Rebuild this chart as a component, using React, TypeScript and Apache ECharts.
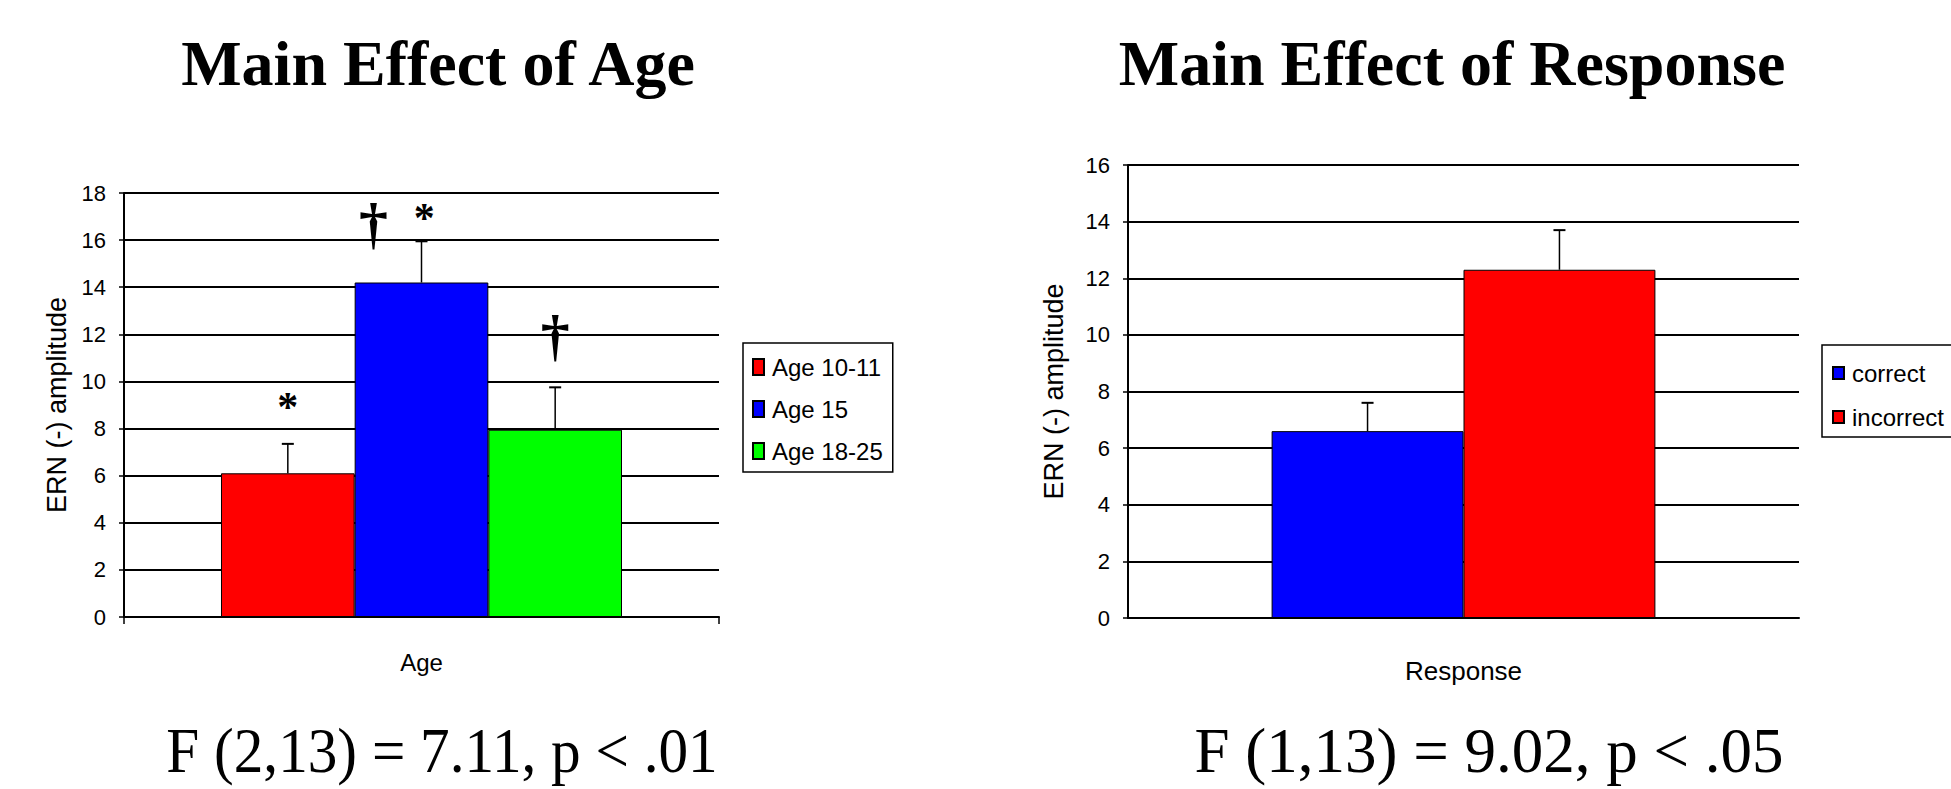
import React, { useEffect, useRef } from "react";
import * as echarts from "echarts";

// ---- Left chart: Main Effect of Age ----
const ageCategories = ["Age"];
const ageGroups = ["Age 10-11", "Age 15", "Age 18-25"];
const ageMeans = [6.1, 14.2, 7.95];
const ageUpper = [7.35, 15.95, 9.75];
const ageColors = ["#ff0000", "#0000ff", "#00ff00"];
const ageMax = 18;
const ageMarks = ["*", "\u2020", "*", "\u2020"];
const ageMarkBar = [0, 1, 1, 2];
const ageMarkShift = [0, -0.36, 0.02, 0];
const ageMarkValue = [8.9, 16.7, 16.95, 11.95];

// ---- Right chart: Main Effect of Response ----
const respCategories = ["Response"];
const respGroups = ["correct", "incorrect"];
const respMeans = [6.6, 12.3];
const respUpper = [7.6, 13.7];
const respColors = ["#0000ff", "#ff0000"];
const respMax = 16;

const tickStep = 2;

const SANS = '"Liberation Sans", Arial, sans-serif';
const SERIF = '"Liberation Serif", "Times New Roman", serif';

const AGE_GAP = 0.326;
const RESP_GAP = 0.428;

function makeYAxis(gridIndex: number, max: number, name: string, nameGap: number) {
  return {
    type: "value",
    gridIndex,
    min: 0,
    max,
    interval: tickStep,
    name,
    nameLocation: "middle",
    nameGap,
    nameTextStyle: { fontFamily: SANS, fontSize: 27, color: "#000" },
    axisLine: { show: true, lineStyle: { color: "#000", width: 2 } },
    axisTick: { show: true, length: 5, lineStyle: { color: "#000", width: 1.5 } },
    axisLabel: { fontFamily: SANS, fontSize: 22, color: "#000", margin: 18 },
    splitLine: { show: true, lineStyle: { color: "#000", width: 2 } },
  };
}

function makeXAxis(gridIndex: number, data: string[], showTick: boolean, nameGap: number, nameSize: number) {
  return {
    type: "category",
    gridIndex,
    data,
    name: data[0],
    nameLocation: "middle",
    nameGap,
    nameTextStyle: { fontFamily: SANS, fontSize: nameSize, color: "#000" },
    axisLine: { show: true, lineStyle: { color: "#000", width: 2 } },
    axisTick: { show: showTick, length: 7, alignWithLabel: false, lineStyle: { color: "#000", width: 1.5 } },
    axisLabel: { show: false },
    splitLine: { show: false },
  };
}

function barSeries(names: string[], means: number[], colors: string[], axisIndex: number, gap: number) {
  return names.map((n, i) => ({
    type: "bar",
    name: n,
    xAxisIndex: axisIndex,
    yAxisIndex: axisIndex,
    data: [means[i]],
    barGap: "0%",
    barCategoryGap: `${gap * 100}%`,
    itemStyle: { color: colors[i], borderColor: "#000", borderWidth: 1 },
  }));
}

function errorSeries(means: number[], upper: number[], axisIndex: number, gap: number) {
  const n = means.length;
  return {
    type: "custom",
    xAxisIndex: axisIndex,
    yAxisIndex: axisIndex,
    silent: true,
    z: 5,
    encode: { x: 0, y: [1, 2] },
    data: means.map((m, i) => [0, m, upper[i]]),
    renderItem: (params: any, api: any) => {
      const i = params.dataIndex;
      const band = api.size([1, 0])[0];
      const barW = (band * (1 - gap)) / n;
      const base = api.coord([api.value(0), api.value(1)]);
      const top = api.coord([api.value(0), api.value(2)]);
      const x = base[0] + (i - (n - 1) / 2) * barW;
      return {
        type: "group",
        children: [
          { type: "line", shape: { x1: x, y1: base[1], x2: x, y2: top[1] }, style: { stroke: "#000", lineWidth: 1.5 } },
          { type: "line", shape: { x1: x - 6, y1: top[1], x2: x + 6, y2: top[1] }, style: { stroke: "#000", lineWidth: 2 } },
        ],
      };
    },
  };
}

function markSeries(axisIndex: number, n: number, gap: number) {
  return {
    type: "custom",
    xAxisIndex: axisIndex,
    yAxisIndex: axisIndex,
    silent: true,
    z: 6,
    encode: { x: 0, y: 1 },
    data: ageMarkValue.map((v) => [0, v]),
    renderItem: (params: any, api: any) => {
      const k = params.dataIndex;
      const band = api.size([1, 0])[0];
      const barW = (band * (1 - gap)) / n;
      const p = api.coord([api.value(0), api.value(1)]);
      const x = p[0] + (ageMarkBar[k] - (n - 1) / 2) * barW + ageMarkShift[k] * barW;
      const isDagger = ageMarks[k] === "\u2020";
      return {
        type: "text",
        x,
        y: p[1],
        style: {
          text: ageMarks[k],
          fontFamily: SERIF,
          fontWeight: "bold",
          fontSize: isDagger ? 58 : 42,
          fill: "#000",
          align: "center",
          verticalAlign: "middle",
        },
      };
    },
  };
}

function legend(data: string[], left: number, top: number, padding: number[], itemGap: number, itemHeight: number) {
  return {
    data,
    orient: "vertical",
    left,
    top,
    padding,
    itemGap,
    itemWidth: 11,
    itemHeight,
    icon: "rect",
    borderColor: "#000",
    borderWidth: 1.5,
    borderRadius: 0,
    backgroundColor: "#fff",
    textStyle: { fontFamily: SANS, fontSize: 24, color: "#000", padding: [0, 0, 0, 3] },
    selectedMode: false,
  };
}

export default function App() {
  const ref = useRef<HTMLDivElement>(null);
  useEffect(() => {
    if (!ref.current) return;
    const chart = echarts.init(ref.current, undefined, { renderer: "svg" });
    const option: any = {
      animation: false,
      backgroundColor: "#fff",
      grid: [
        { left: 124, top: 193, width: 595, height: 424 },
        { left: 1128, top: 165, width: 671, height: 453 },
      ],
      xAxis: [makeXAxis(0, ageCategories, true, 33, 24), makeXAxis(1, respCategories, false, 40, 26)],
      yAxis: [makeYAxis(0, ageMax, "ERN (-) amplitude", 54), makeYAxis(1, respMax, "ERN (-) amplitude", 61)],
      legend: [
        legend(ageGroups, 743, 343, [12, 10, 9, 9], 18, 16),
        legend(respGroups, 1822, 345, [16, 40, 8, 10], 20, 12),
      ],
      series: [
        ...barSeries(ageGroups, ageMeans, ageColors, 0, AGE_GAP),
        errorSeries(ageMeans, ageUpper, 0, AGE_GAP),
        markSeries(0, ageGroups.length, AGE_GAP),
        ...barSeries(respGroups, respMeans, respColors, 1, RESP_GAP),
        errorSeries(respMeans, respUpper, 1, RESP_GAP),
      ],
      graphic: [
        { type: "text", x: 438, y: 63, style: { text: "Main Effect of Age", fontFamily: SERIF, fontWeight: "bold", fontSize: 64, fill: "#000", align: "center", verticalAlign: "middle" } },
        { type: "text", x: 1452, y: 63, style: { text: "Main Effect of Response", fontFamily: SERIF, fontWeight: "bold", fontSize: 64, fill: "#000", align: "center", verticalAlign: "middle" } },
        { type: "text", x: 442, y: 751, scaleX: 0.94, style: { text: "F (2,13) = 7.11, p < .01", fontFamily: SERIF, fontSize: 63, fill: "#000", align: "center", verticalAlign: "middle" } },
        { type: "text", x: 1489, y: 751, style: { text: "F (1,13) = 9.02, p < .05", fontFamily: SERIF, fontSize: 63, fill: "#000", align: "center", verticalAlign: "middle" } },
      ],
    };
    chart.setOption(option);
    return () => chart.dispose();
  }, []);
  return <div ref={ref} style={{ position: "fixed", left: 0, top: 0, width: 1951, height: 789 }} />;
}
